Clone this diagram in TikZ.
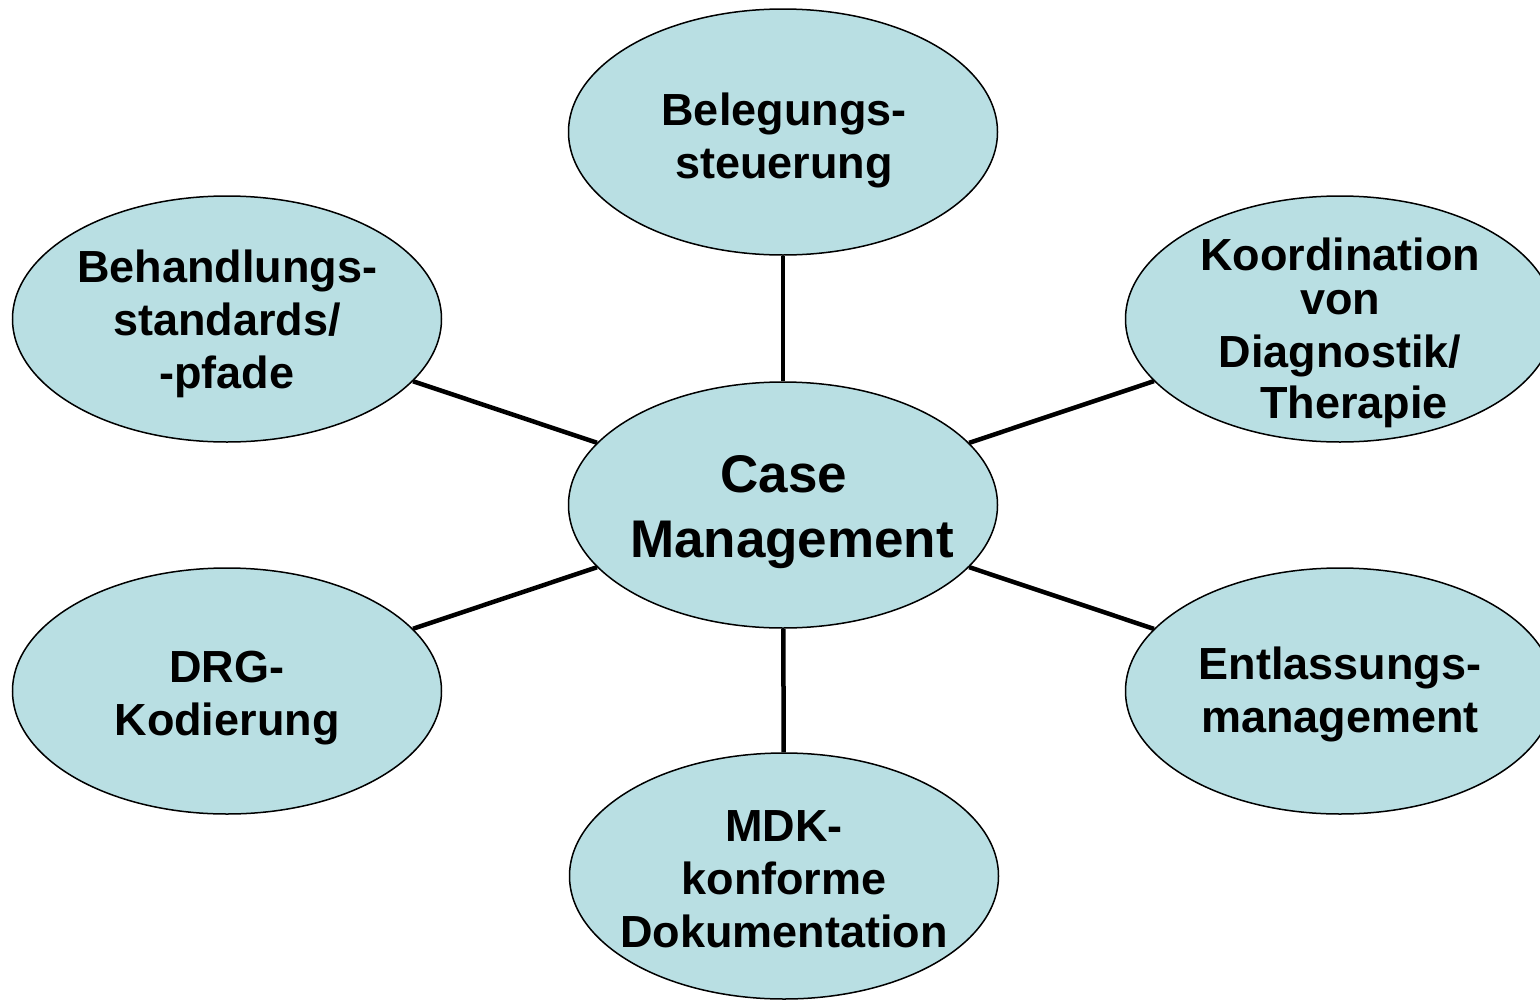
\documentclass[tikz,border=0pt]{standalone}
\usepackage{fontspec}
\setmainfont{Liberation Sans}
\usetikzlibrary{shapes.geometric}
\definecolor{bubble}{HTML}{B9DFE3}
\begin{document}
\begin{tikzpicture}[x=1pt,y=-1pt,
  bub/.style={ellipse, draw=black, line width=1.5pt, fill=bubble, minimum width=429pt, minimum height=246pt, inner sep=0pt},
  txt/.style={anchor=base, inner sep=0pt, align=center, font=\bfseries\fontsize{45}{53}\selectfont},
  hubtxt/.style={txt, font=\bfseries\fontsize{53}{65}\selectfont},
  link/.style={line width=4.5pt, black}]
\useasboundingbox (0,0) rectangle (1540,999);
\clip (0,0) rectangle (1540,999);
\node[bub] (c) at (783,505) {};
\node[bub] (t) at (783,132) {};
\node[bub] (lu) at (227,319) {};
\node[bub] (ru) at (1340,319) {};
\node[bub] (ll) at (227,691) {};
\node[bub] (rl) at (1340,691) {};
\node[bub] (b) at (784,876) {};
\draw[link] (c) -- (t);
\draw[link] (c) -- (lu);
\draw[link] (c) -- (ru);
\draw[link] (c) -- (ll);
\draw[link] (c) -- (rl);
\draw[link] (c) -- (b);
\node[hubtxt] (ct) at (784,557) {Case\\\hspace*{16pt}Management};
\node[txt] (tt) at (784,178) {Belegungs-\\steuerung};
\node[txt] (lut) at (227,388) {Behandlungs-\\standards/\\-pfade};
\node[txt] (rut) at (1340,418) {Koordination\\[-9pt]von\\Diagnostik/\\[-2pt]\hspace*{28pt}Therapie};
\node[txt] (llt) at (227,735) {DRG-\\Kodierung};
\node[txt] (rlt) at (1340,732) {Entlassungs-\\management};
\node[txt] (bt) at (784,947) {MDK-\\konforme\\Dokumentation};
\end{tikzpicture}
\end{document}
